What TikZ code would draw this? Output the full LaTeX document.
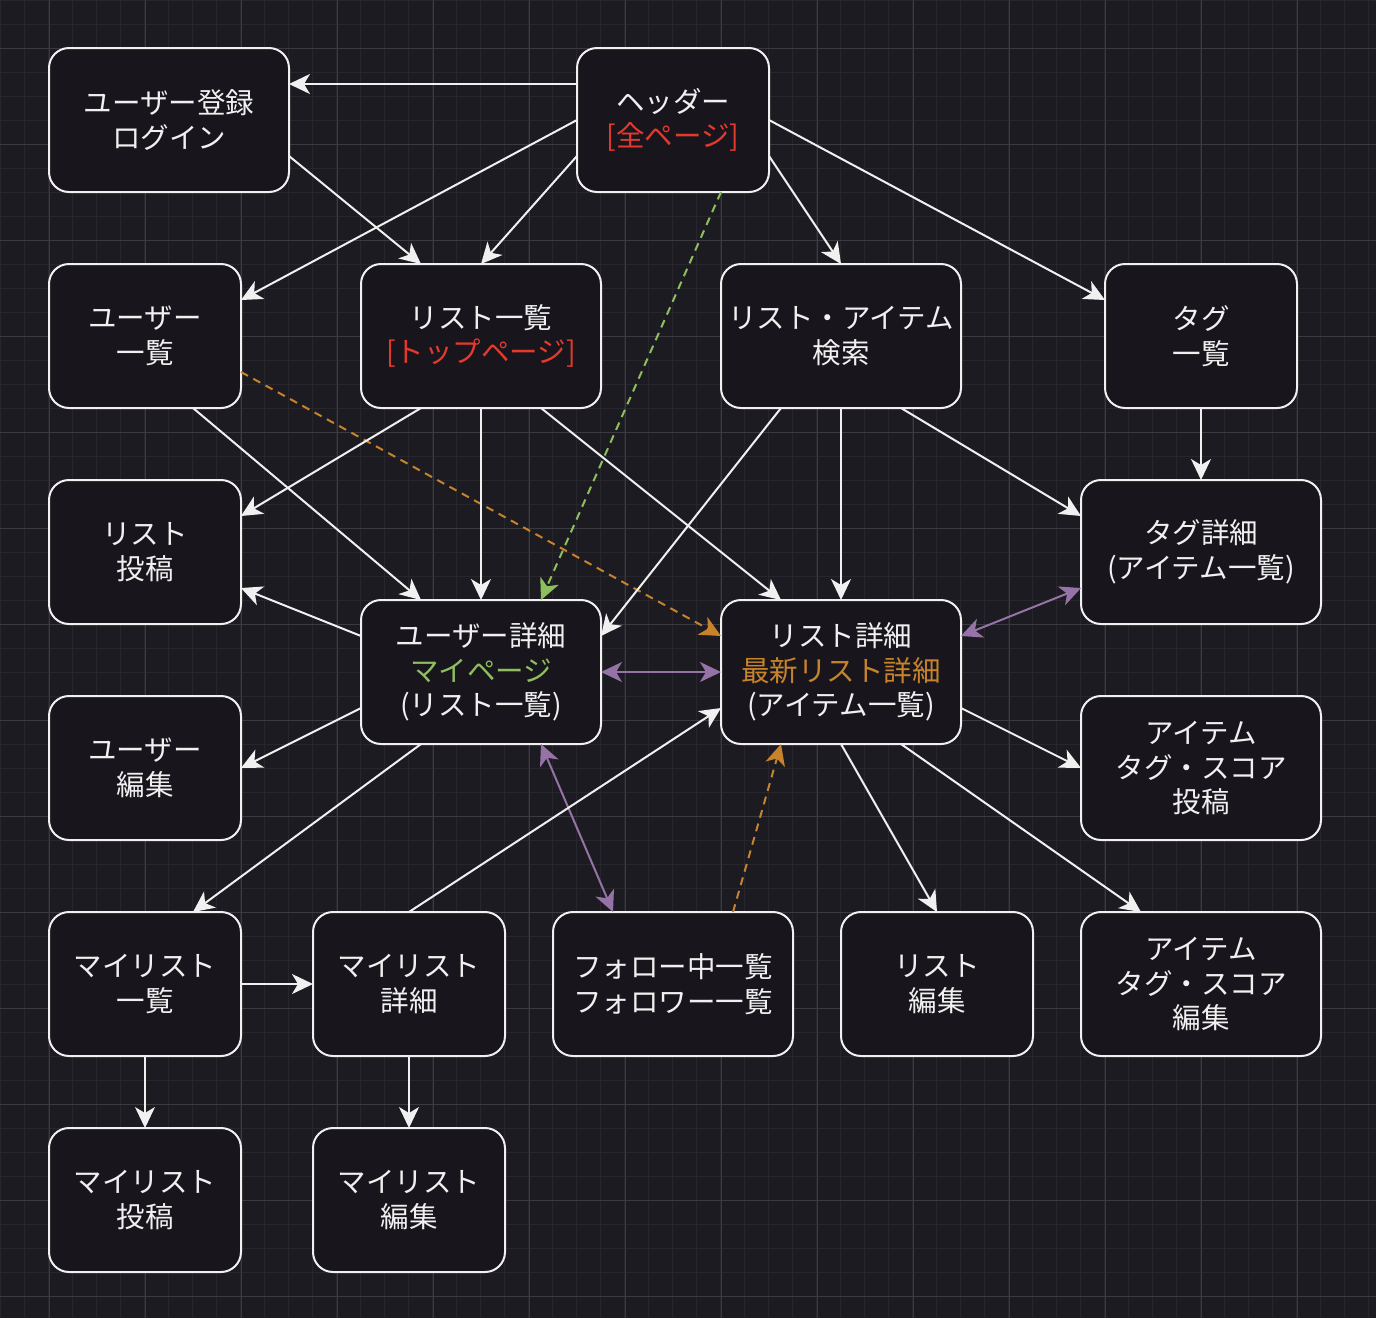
\documentclass[tikz,border=0pt]{standalone}
\usepackage{fontspec}
\setmainfont{Noto Sans CJK JP}
\usetikzlibrary{arrows.meta}
\definecolor{bgc}{HTML}{1C1B21}
\definecolor{nodefill}{HTML}{18161C}
\definecolor{minorc}{HTML}{27262C}
\definecolor{majorc}{HTML}{3B3A40}
\definecolor{fg}{HTML}{F0F0F0}
\definecolor{redt}{HTML}{E6392E}
\definecolor{grnt}{HTML}{8EBF5E}
\definecolor{orgt}{HTML}{C7832C}
\definecolor{purp}{HTML}{9673A6}
\tikzset{
  tip/.tip={Stealth[length=21pt,width=20pt,inset=6pt]},
  box/.style={draw=fg, line width=2pt, rounded corners=20pt, fill=nodefill, text=fg,
    align=center, minimum height=144pt, inner sep=0pt, outer sep=0pt,
    font=\fontsize{28.5}{34.5}\selectfont},
  wbox/.style={box, minimum width=240pt},
  nbox/.style={box, minimum width=192pt},
  edge/.style={draw=fg, line width=2pt, -tip},
  biedge/.style={draw=purp, line width=2pt, tip-tip},
  grnedge/.style={draw=grnt, line width=2pt, dash pattern=on 8pt off 6pt, -tip},
  orgedge/.style={draw=orgt, line width=2pt, dash pattern=on 8pt off 6pt, -tip},
}
\begin{document}
\begin{tikzpicture}[x=1pt,y=-1pt]
\fill[bgc] (0,0) rectangle (1376,1318);
\useasboundingbox (0,0) rectangle (1376,1318);
\foreach \i in {0,24,...,1376} \draw[minorc, line width=1pt] (\i,0) -- (\i,1318);
\foreach \i in {0,24,...,1318} \draw[minorc, line width=1pt] (0,\i) -- (1376,\i);
\foreach \i in {49,145,...,1376} \draw[majorc, line width=1pt] (\i,0) -- (\i,1318);
\foreach \i in {48,144,...,1318} \draw[majorc, line width=1pt] (0,\i) -- (1376,\i);

\node[wbox] (reg) at (169,120) {ユーザー登録\\ログイン};
\node[nbox] (hdr) at (673,120) {ヘッダー\\{\color{redt}[全ページ]}};
\node[nbox] (ulist) at (145,336) {ユーザー\\一覧};
\node[wbox] (llist) at (481,336) {リスト一覧\\{\color{redt}[トップページ]}};
\node[wbox] (search) at (841,336) {リスト・アイテム\\検索};
\node[nbox] (tags) at (1201,336) {タグ\\一覧};
\node[nbox] (lpost) at (145,552) {リスト\\投稿};
\node[wbox] (tagd) at (1201,552) {タグ詳細\\(アイテム一覧)};
\node[wbox] (udet) at (481,672) {ユーザー詳細\\{\color{grnt}マイページ}\\(リスト一覧)};
\node[wbox] (ldet) at (841,672) {リスト詳細\\{\color{orgt}最新リスト詳細}\\(アイテム一覧)};
\node[nbox] (uedit) at (145,768) {ユーザー\\編集};
\node[wbox] (ipost) at (1201,768) {アイテム\\タグ・スコア\\投稿};
\node[nbox] (mylist) at (145,984) {マイリスト\\一覧};
\node[nbox] (mydet) at (409,984) {マイリスト\\詳細};
\node[wbox] (follow) at (673,984) {フォロー中一覧\\フォロワー一覧};
\node[nbox] (ledit) at (937,984) {リスト\\編集};
\node[wbox] (iedit) at (1201,984) {アイテム\\タグ・スコア\\編集};
\node[nbox] (mypost) at (145,1200) {マイリスト\\投稿};
\node[nbox] (myedit) at (409,1200) {マイリスト\\編集};

% header edges
\draw[edge] ([yshift=36pt]hdr.west) -- ([yshift=36pt]reg.east);
\draw[edge] ([yshift=-36pt]reg.east) -- ([xshift=-60pt]llist.north);
\draw[edge] (hdr.west) -- ([yshift=36pt]ulist.east);
\draw[edge] ([yshift=-36pt]hdr.west) -- (llist.north);
\draw[grnedge] ([xshift=48pt]hdr.south) -- ([xshift=60pt]udet.north);
\draw[edge] ([yshift=-36pt]hdr.east) -- (search.north);
\draw[edge] (hdr.east) -- ([yshift=36pt]tags.west);
% row 2
\draw[edge] ([xshift=48pt]ulist.south) -- ([xshift=-60pt]udet.north);
\draw[orgedge] ([yshift=-36pt]ulist.east) -- ([yshift=36pt]ldet.west);
\draw[edge] ([xshift=-60pt]llist.south) -- ([yshift=36pt]lpost.east);
\draw[edge] (llist.south) -- (udet.north);
\draw[edge] ([xshift=60pt]llist.south) -- ([xshift=-60pt]ldet.north);
\draw[edge] ([xshift=-60pt]search.south) -- ([yshift=36pt]udet.east);
\draw[edge] (search.south) -- (ldet.north);
\draw[edge] ([xshift=60pt]search.south) -- ([yshift=36pt]tagd.west);
\draw[edge] (tags.south) -- (tagd.north);
% middle
\draw[biedge] ([yshift=-36pt]tagd.west) -- ([yshift=36pt]ldet.east);
\draw[edge] ([yshift=36pt]udet.west) -- ([yshift=-36pt]lpost.east);
\draw[biedge] (udet.east) -- (ldet.west);
\draw[edge] ([yshift=-36pt]udet.west) -- (uedit.east);
\draw[edge] ([xshift=-60pt]udet.south) -- ([xshift=48pt]mylist.north);
\draw[biedge] ([xshift=60pt]udet.south) -- ([xshift=-60pt]follow.north);
\draw[edge] (mydet.north) -- ([yshift=-36pt]ldet.west);
\draw[orgedge] ([xshift=60pt]follow.north) -- ([xshift=-60pt]ldet.south);
\draw[edge] ([yshift=-36pt]ldet.east) -- (ipost.west);
\draw[edge] (ldet.south) -- (ledit.north);
\draw[edge] ([xshift=60pt]ldet.south) -- ([xshift=-60pt]iedit.north);
% bottom
\draw[edge] (mylist.east) -- (mydet.west);
\draw[edge] (mylist.south) -- (mypost.north);
\draw[edge] (mydet.south) -- (myedit.north);
\end{tikzpicture}
\end{document}
